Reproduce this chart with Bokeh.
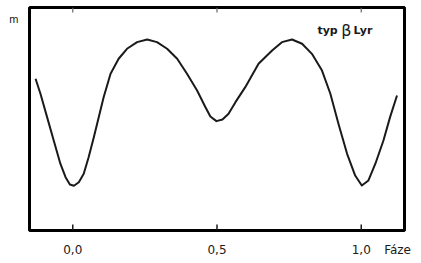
from bokeh.plotting import figure
from bokeh.models import Range1d, LinearAxis, FixedTicker, Label
from bokeh.embed import file_html
from bokeh.resources import INLINE

# Light curve of an eclipsing binary of type beta Lyr (phase vs magnitude)
phase = [-0.129, -0.112, -0.089, -0.066, -0.043, -0.025, -0.010, 0.004, 0.021, 0.038,
         0.055, 0.073, 0.090, 0.107, 0.131, 0.159, 0.188, 0.223, 0.258, 0.292,
         0.327, 0.362, 0.396, 0.431, 0.460, 0.477, 0.498, 0.519, 0.540, 0.564,
         0.598, 0.644, 0.691, 0.725, 0.760, 0.795, 0.829, 0.864, 0.893, 0.921,
         0.951, 0.979, 1.002, 1.025, 1.049, 1.077, 1.100, 1.124]
mag = [3.596, 3.709, 3.885, 4.061, 4.236, 4.337, 4.392, 4.402, 4.375, 4.312,
       4.187, 4.036, 3.885, 3.735, 3.558, 3.445, 3.370, 3.320, 3.300, 3.320,
       3.370, 3.445, 3.558, 3.684, 3.810, 3.880, 3.915, 3.903, 3.860, 3.772,
       3.659, 3.483, 3.383, 3.320, 3.300, 3.332, 3.408, 3.534, 3.709, 3.935,
       4.161, 4.325, 4.400, 4.362, 4.236, 4.061, 3.885, 3.722]

tick_values = [0.0, 0.5, 1.0]
tick_labels = ["0,0", "0,5", "1,0"]
x_title = "Fáze"
x_title_pos = 1.126
y_title = "m"
y_title_pos = 3.149

X0, X1 = -0.15, 1.15
Y_BOTTOM, Y_TOP = 4.739, 3.059

FONT = "Liberation Sans"
WIDE = "DejaVu Sans"
INK = "#1a1a1a"

p = figure(frame_width=375, frame_height=223,
           min_border_left=29, min_border_right=17,
           min_border_top=7, min_border_bottom=33,
           x_range=Range1d(X0, X1), y_range=Range1d(Y_BOTTOM, Y_TOP),
           toolbar_location=None, output_backend="svg",
           y_axis_location=None, x_axis_location="below")

p.background_fill_color = "white"
p.border_fill_color = "white"
p.outline_line_color = "black"
p.outline_line_width = 3
p.xgrid.visible = False
p.ygrid.visible = False

# bottom axis: numeric labels plus the axis title as an extra label
xa = p.xaxis[0]
xa.ticker = FixedTicker(ticks=tick_values + [x_title_pos])
overrides = {v: s for v, s in zip(tick_values, tick_labels)}
overrides[x_title_pos] = x_title
xa.major_label_overrides = overrides
xa.axis_line_color = None
xa.major_tick_out = 0
xa.major_tick_in = 0
xa.minor_tick_line_color = None
xa.major_label_text_font = WIDE
xa.major_label_text_font_size = "12px"
xa.major_label_text_color = INK
xa.major_label_standoff = 12

# left axis carrying only the "m" label
ya = LinearAxis(ticker=FixedTicker(ticks=[y_title_pos]))
ya.major_label_overrides = {y_title_pos: y_title}
ya.axis_line_color = None
ya.major_tick_out = 0
ya.major_tick_in = 0
ya.minor_tick_line_color = None
ya.major_label_orientation = "horizontal"
ya.major_label_text_font = FONT
ya.major_label_text_font_size = "11px"
ya.major_label_text_color = INK
ya.major_label_standoff = 11
p.add_layout(ya, "left")

# inward tick marks, bottom and top, from the tick values
span = Y_BOTTOM - Y_TOP
n = len(tick_values)
p.segment(x0=tick_values, y0=[Y_BOTTOM] * n, x1=tick_values,
          y1=[Y_BOTTOM - span * 6 / 223] * n, line_color=INK, line_width=1.5)
p.segment(x0=tick_values, y0=[Y_TOP] * n, x1=tick_values,
          y1=[Y_TOP + span * 5 / 223] * n, line_color="#666666", line_width=1.2)

p.line(phase, mag, line_color=INK, line_width=2, line_join="round")

p.add_layout(Label(x=0.848, y=3.233, text="typ", text_font=WIDE,
                   text_font_size="11px", text_font_style="bold",
                   text_color=INK, text_align="left", text_baseline="alphabetic"))
p.add_layout(Label(x=0.931, y=3.233, text="β", text_font=WIDE,
                   text_font_size="16px", text_font_style="normal",
                   text_color=INK, text_align="left", text_baseline="alphabetic"))
p.add_layout(Label(x=0.973, y=3.233, text="Lyr", text_font=WIDE,
                   text_font_size="11px", text_font_style="bold",
                   text_color=INK, text_align="left", text_baseline="alphabetic"))

open("out.html", "w").write(file_html(p, INLINE))
